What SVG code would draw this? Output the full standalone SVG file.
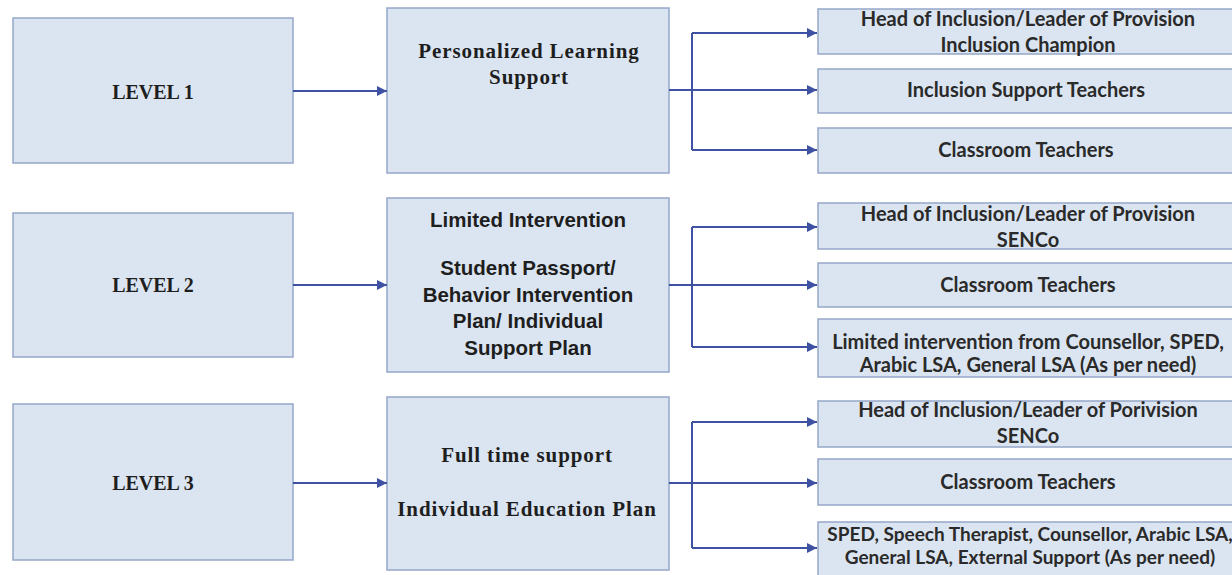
<svg xmlns="http://www.w3.org/2000/svg" width="1232" height="575" viewBox="0 0 1232 575">
<style>
.box{fill:#dbe5f1;stroke:#95a6c9;stroke-width:1.5}
.lvl{font-family:"Liberation Serif",serif;font-weight:bold;font-size:20px;fill:#1e1e1e;text-anchor:middle}
.mid{font-family:"Liberation Serif",serif;font-weight:bold;font-size:21px;letter-spacing:0.9px;fill:#1e1e1e;text-anchor:middle}
.mids{font-family:"Liberation Sans",Arial,sans-serif;font-weight:bold;font-size:20.5px;fill:#1e1e1e;text-anchor:middle}
.rt{font-family:Lato,"Liberation Sans",sans-serif;font-weight:bold;font-size:20px;fill:#2a2a2a;text-anchor:middle}
.rs{font-size:19px}
.ln{stroke:#3f51a3;stroke-width:2;fill:none}
.ar{stroke:#3f51a3;stroke-width:2;fill:none;marker-end:url(#ah)}
</style>
<defs>
<marker id="ah" viewBox="0 0 10 10" refX="10" refY="5" markerWidth="5" markerHeight="5" markerUnits="strokeWidth" orient="auto">
<path d="M0,0 L10,5 L0,10 z" fill="#3f51a3"/>
</marker>
</defs>
<rect width="1232" height="575" fill="#ffffff"/>

<g id="level1"><rect class="box" x="13" y="18" width="280" height="145"/><text class="lvl" x="153" y="99">LEVEL 1</text></g>
<g id="level2"><rect class="box" x="13" y="213" width="280" height="144"/><text class="lvl" x="153" y="292">LEVEL 2</text></g>
<g id="level3"><rect class="box" x="13" y="404" width="280" height="156"/><text class="lvl" x="153" y="490">LEVEL 3</text></g>

<g id="mid1"><rect class="box" x="387" y="8" width="282" height="165"/>
<text class="mid" x="529" y="58">Personalized Learning</text>
<text class="mid" x="529" y="84">Support</text></g>
<g id="mid2"><rect class="box" x="387" y="198" width="282" height="174"/>
<text class="mids" x="528" y="227">Limited Intervention</text>
<text class="mids" x="528" y="275">Student Passport/</text>
<text class="mids" x="528" y="302">Behavior Intervention</text>
<text class="mids" x="528" y="328">Plan/ Individual</text>
<text class="mids" x="528" y="355">Support Plan</text></g>
<g id="mid3"><rect class="box" x="387" y="397" width="282" height="173"/>
<text class="mid" x="527" y="462">Full time support</text>
<text class="mid" x="527" y="516">Individual Education Plan</text></g>

<g id="r1a"><rect class="box" x="818" y="9" width="420" height="45"/><text class="rt" x="1028" y="26">Head of Inclusion/Leader of Provision</text><text class="rt" x="1028" y="52">Inclusion Champion</text></g>
<g id="r1b"><rect class="box" x="818" y="69" width="420" height="44"/><text class="rt" x="1026" y="97">Inclusion Support Teachers</text></g>
<g id="r1c"><rect class="box" x="818" y="128" width="420" height="45"/><text class="rt" x="1026" y="157">Classroom Teachers</text></g>

<g id="r2a"><rect class="box" x="818" y="203" width="420" height="46"/><text class="rt" x="1028" y="221">Head of Inclusion/Leader of Provision</text><text class="rt" x="1028" y="247">SENCo</text></g>
<g id="r2b"><rect class="box" x="818" y="263" width="420" height="44"/><text class="rt" x="1028" y="292">Classroom Teachers</text></g>
<g id="r2c"><rect class="box" x="818" y="319" width="420" height="58"/><text class="rt" x="1028" y="349">Limited intervention from Counsellor, SPED,</text><text class="rt" x="1028" y="372">Arabic LSA, General LSA (As per need)</text></g>

<g id="r3a"><rect class="box" x="818" y="401" width="420" height="46"/><text class="rt" x="1028" y="417">Head of Inclusion/Leader of Porivision</text><text class="rt" x="1028" y="443">SENCo</text></g>
<g id="r3b"><rect class="box" x="818" y="459" width="420" height="46"/><text class="rt" x="1028" y="489">Classroom Teachers</text></g>
<g id="r3c"><rect class="box" x="818" y="522" width="420" height="60"/><text class="rt rs" x="1030" y="541">SPED, Speech Therapist, Counsellor, Arabic LSA,</text><text class="rt rs" x="1030" y="564">General LSA, External Support (As per need)</text></g>

<g id="connectors">
<line class="ar" x1="293" y1="91" x2="387" y2="91"/>
<line class="ar" x1="293" y1="285" x2="387" y2="285"/>
<line class="ar" x1="293" y1="483" x2="387" y2="483"/>

<line class="ln" x1="692" y1="33" x2="692" y2="150"/>
<line class="ar" x1="692" y1="33" x2="817" y2="33"/>
<line class="ar" x1="669" y1="90" x2="817" y2="90"/>
<line class="ar" x1="692" y1="150" x2="817" y2="150"/>

<line class="ln" x1="692" y1="227" x2="692" y2="347"/>
<line class="ar" x1="692" y1="227" x2="817" y2="227"/>
<line class="ar" x1="669" y1="285" x2="817" y2="285"/>
<line class="ar" x1="692" y1="347" x2="817" y2="347"/>

<line class="ln" x1="692" y1="422" x2="692" y2="548"/>
<line class="ar" x1="692" y1="422" x2="817" y2="422"/>
<line class="ar" x1="669" y1="483" x2="817" y2="483"/>
<line class="ar" x1="692" y1="548" x2="817" y2="548"/>
</g>
</svg>
